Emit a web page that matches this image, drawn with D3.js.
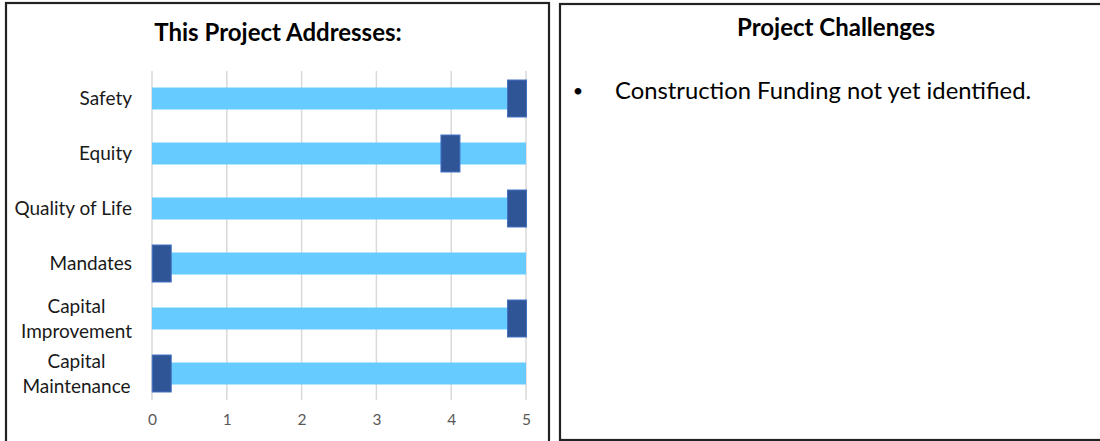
<!DOCTYPE html>
<html>
<head>
<meta charset="utf-8">
<script src="https://cdn.jsdelivr.net/npm/d3@7"></script>
<style>
  html, body { margin: 0; padding: 0; background: #fff; }
  svg { display: block; }
  text { font-family: Lato, "Open Sans", sans-serif; }
</style>
</head>
<body>
<svg id="chart" width="1100" height="441"></svg>
<script>
// ---- data ----
const categories = ["Safety", "Equity", "Quality of Life", "Mandates", "Capital Improvement", "Capital Maintenance"];
const categoryLines = [["Safety"], ["Equity"], ["Quality of Life"], ["Mandates"], ["Capital", "Improvement"], ["Capital", "Maintenance"]];
const barValues = [5, 5, 5, 5, 5, 5];
const markerValues = [4.88, 3.99, 4.88, 0.13, 4.88, 0.13];
const tickValues = [0, 1, 2, 3, 4, 5];
const leftTitle = "This Project Addresses:";
const rightTitle = "Project Challenges";
const challenges = ["Construction Funding not yet identified."];

const svg = d3.select("#chart");

// panels
svg.append("rect").attr("x", 6).attr("y", 3).attr("width", 543).attr("height", 460)
  .attr("fill", "none").attr("stroke", "#222").attr("stroke-width", 2.2);
svg.append("rect").attr("x", 560).attr("y", 4).attr("width", 560).attr("height", 436)
  .attr("fill", "none").attr("stroke", "#222").attr("stroke-width", 2.2);

// scales
const x = d3.scaleLinear().domain([0, 5]).range([152, 526]);
const y = d3.scaleBand().domain(categories).range([71, 401]).paddingInner(0.6).paddingOuter(0.3);

// gridlines
svg.append("g").selectAll("line").data(tickValues).join("line")
  .attr("x1", d => x(d)).attr("x2", d => x(d))
  .attr("y1", 71).attr("y2", 400)
  .attr("stroke", "#d9d9d9").attr("stroke-width", 1.5);

// x axis tick labels
const xAxis = d3.axisBottom(x).tickValues(tickValues).tickSize(0).tickPadding(0).tickFormat(d3.format("d"));
const gx = svg.append("g").attr("transform", "translate(0,414)").call(xAxis);
gx.select(".domain").remove();
gx.selectAll("text").attr("fill", "#595959").attr("font-size", 15.5).attr("font-family", "Lato, sans-serif");

// bars
svg.append("g").selectAll("rect").data(categories).join("rect")
  .attr("x", x(0))
  .attr("y", d => y(d))
  .attr("width", (d, i) => x(barValues[i]) - x(0))
  .attr("height", y.bandwidth())
  .attr("fill", "#66CCFF");

// markers
const mw = 19, mh = 37;
svg.append("g").selectAll("rect").data(categories).join("rect")
  .attr("x", (d, i) => x(markerValues[i]) - mw / 2)
  .attr("y", d => y(d) + y.bandwidth() / 2 - mh / 2)
  .attr("width", mw).attr("height", mh)
  .attr("fill", "#2F5597").attr("stroke", "#4472C4").attr("stroke-width", 1);

// category labels
const lineH = 25;
const gl = svg.append("g");
categories.forEach((c, i) => {
  const lines = categoryLines[i];
  const cy = y(c) + y.bandwidth() / 2;
  const t = gl.append("text")
    .attr("font-size", 19).attr("fill", "#1a1a1a");
  if (lines.length === 1) {
    t.attr("x", 132).attr("y", cy).attr("dy", "0.35em").attr("text-anchor", "end").text(lines[0]);
  } else {
    t.attr("x", 76.5).attr("text-anchor", "middle");
    lines.forEach((l, j) => {
      t.append("tspan").attr("x", 76.5).attr("y", cy + (j - (lines.length - 1) / 2) * lineH).attr("dy", "0.35em").text(l);
    });
  }
});

// titles
svg.append("text").attr("x", 278).attr("y", 33).attr("dy", "0.35em")
  .attr("text-anchor", "middle").attr("font-weight", "bold").attr("font-size", 24)
  .attr("fill", "#000").text(leftTitle);
svg.append("text").attr("x", 836).attr("y", 28).attr("dy", "0.35em")
  .attr("text-anchor", "middle").attr("font-weight", "bold").attr("font-size", 24)
  .attr("fill", "#000").text(rightTitle);

// challenges list
const gc = svg.append("g");
challenges.forEach((c, i) => {
  gc.append("text").attr("x", 578).attr("y", 91 + i * 30).attr("dy", "0.35em")
    .attr("text-anchor", "middle").attr("font-size", 18).attr("fill", "#000").text("•");
  gc.append("text").attr("x", 615).attr("y", 91 + i * 30).attr("dy", "0.35em")
    .attr("font-size", 23.8).attr("fill", "#000").text(c);
});
</script>
</body>
</html>
